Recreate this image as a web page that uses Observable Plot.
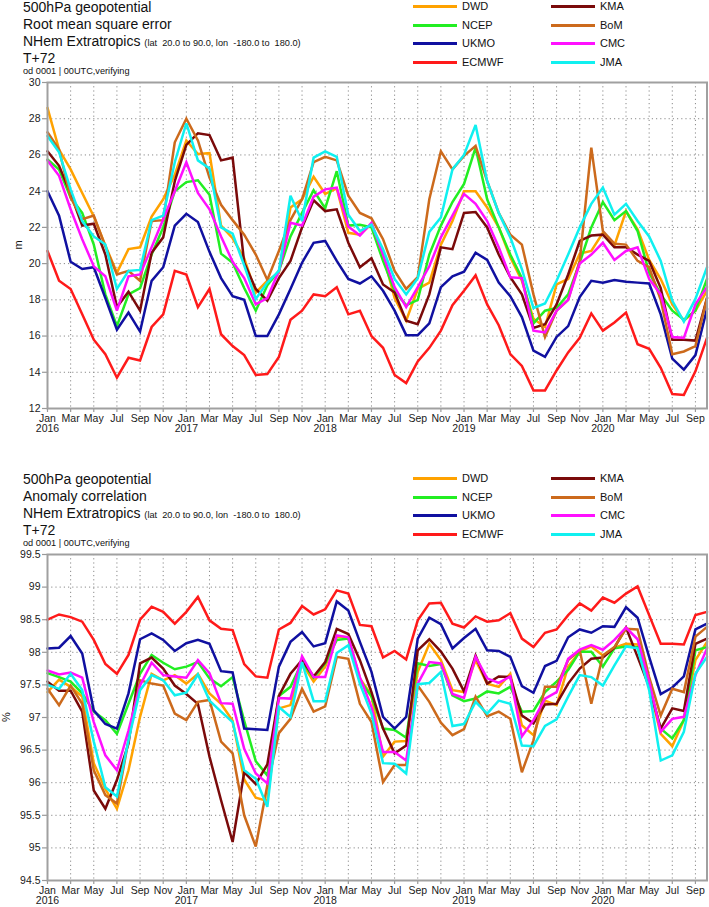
<!DOCTYPE html>
<html><head><meta charset="utf-8">
<script src="https://cdn.jsdelivr.net/npm/d3@7"></script>
<script src="https://cdn.jsdelivr.net/npm/@observablehq/plot@0.6"></script>
<style>
body{margin:0;background:#fff;font-family:"Liberation Sans",Arial,Helvetica,sans-serif;}
#wrap{position:relative;width:709px;height:907px;overflow:hidden;background:#fff;}
#wrap svg{position:absolute;left:0;}
.t{position:absolute;white-space:nowrap;color:#111;line-height:1;z-index:2;}
.big{font-size:14px;}
.sm{font-size:9.2px;}
.od{font-size:9.2px;}
.lg{font-size:11px;}
.sw{position:absolute;height:3px;width:44px;z-index:2;}
.yl{position:absolute;font-size:11px;z-index:2;transform:translate(-50%,-50%) rotate(-90deg);color:#111;}
</style></head><body><div id="wrap"></div>
<script>
// ---- data: monthly values Jan 2016 .. Oct 2020 (58 months) ----
const monthNames = ["Jan","Feb","Mar","Apr","May","Jun","Jul","Aug","Sep","Oct","Nov","Dec"];
const startYear = 2016;
const nMonths = 58;
const models = ["DWD","NCEP","UKMO","ECMWF","KMA","BoM","CMC","JMA"];
const colors = ["#ffa200","#22ee22","#1010a0","#ff1a1a","#7a0a0a","#cc6a1c","#ff10ff","#10f0f0"];

// Root mean square error (m)
const rmseDWD = [28.6,26.3,25.2,23.9,22.6,21.0,19.5,20.8,20.9,22.6,23.55,24.9,26.8,26.05,26.1,22.1,21.4,20.3,18.4,19.05,19.5,23.1,23.55,24.8,23.85,24.15,21.7,21.6,22.2,20.5,18.1,16.85,18.6,18.95,21.05,22.35,24.0,24.0,23.1,22.0,20.35,19.05,16.95,16.5,18.85,19.15,20.55,20.7,21.7,21.0,22.9,21.9,20.2,19.15,17.75,16.85,17.4,18.5];
const rmseNCEP = [25.75,25.2,23.65,22.8,21.05,18.3,16.55,18.3,18.65,20.5,22.0,24.0,24.5,24.6,23.8,20.55,20.05,18.65,17.4,18.8,19.6,21.5,22.8,24.05,23.05,25.1,22.1,22.15,22.0,20.15,18.5,17.7,18.0,20.5,22.1,23.4,24.4,26.4,23.55,22.0,20.5,19.2,16.7,17.4,17.55,18.3,20.05,22.0,23.4,22.4,22.9,21.8,19.5,18.3,17.4,16.9,17.4,19.15];
const rmseUKMO = [24.0,22.65,20.1,19.7,19.8,18.1,16.35,17.3,16.25,19.05,19.8,22.1,22.75,22.3,20.65,19.2,18.2,18.0,16.0,16.0,17.2,18.6,20.05,21.15,21.25,20.15,19.15,18.9,19.3,18.5,17.4,16.05,16.05,16.7,18.7,19.3,19.55,20.6,20.2,18.95,18.2,17.05,15.2,14.85,15.95,16.55,18.15,19.05,18.95,19.1,19.0,18.95,18.9,17.2,14.75,14.15,14.95,17.5];
const rmseECMWF = [20.7,19.05,18.6,17.2,15.8,15.0,13.7,14.8,14.65,16.5,17.2,19.6,19.4,17.6,18.6,16.1,15.45,14.95,13.85,13.9,14.85,16.9,17.4,18.3,18.2,18.7,17.2,17.4,16.0,15.35,13.85,13.4,14.6,15.35,16.3,17.7,18.5,19.35,17.75,16.6,15.0,14.35,13.0,13.0,14.1,15.1,15.9,17.25,16.3,16.75,17.3,15.55,15.3,14.25,12.8,12.75,14.05,15.9];
const rmseKMA = [26.2,25.4,23.85,22.1,22.2,20.5,17.6,18.45,17.4,20.6,21.45,24.55,26.55,27.2,27.1,25.7,25.85,20.05,18.6,17.95,19.2,20.15,22.0,23.5,22.9,23.0,21.15,19.8,20.3,18.85,18.4,16.85,16.65,18.3,20.9,20.8,22.8,22.85,22.0,20.5,19.25,18.3,16.45,16.65,17.75,19.4,21.25,21.55,21.6,20.9,20.9,20.5,20.15,18.65,15.8,15.8,15.75,18.1];
const rmseBoM = [27.25,26.3,23.65,22.45,22.65,20.95,19.4,19.6,19.05,22.35,22.4,26.7,28.0,26.8,24.75,23.25,22.4,21.6,20.5,19.1,20.7,22.4,23.55,25.6,25.9,25.7,23.75,22.8,22.5,21.35,19.6,18.6,19.25,23.55,26.2,25.2,25.95,26.5,24.55,22.8,21.6,21.05,18.3,15.95,17.4,18.0,20.15,26.4,21.8,21.1,21.05,20.15,19.8,18.0,15.0,15.15,15.45,18.1];
const rmseCMC = [25.7,24.85,23.0,21.35,19.85,19.3,17.4,19.3,19.4,20.9,22.45,24.0,25.6,23.9,23.0,21.5,20.1,19.2,17.75,18.1,19.6,22.25,22.1,23.7,24.1,24.2,22.05,21.55,22.25,20.5,18.7,17.6,18.7,19.85,21.45,22.65,23.85,23.3,22.35,20.9,19.25,19.2,16.3,16.2,17.4,18.0,20.0,20.5,21.15,20.2,20.7,20.9,19.15,18.3,15.95,15.9,17.75,18.7];
const rmseJMA = [27.05,26.15,24.1,22.35,21.5,21.05,18.6,19.6,19.65,22.4,22.65,25.6,27.75,25.7,25.25,22.0,21.65,19.9,18.05,18.95,19.6,23.75,22.35,25.85,26.2,25.9,22.7,21.8,22.15,20.8,19.15,18.3,19.2,21.75,22.55,25.2,26.0,27.65,24.55,22.8,21.45,19.7,17.55,17.8,19.05,20.5,22.0,23.3,24.2,22.7,23.3,22.35,21.5,20.15,17.95,16.8,18.05,19.8];

// Anomaly correlation (%)
const accDWD = [97.39,97.58,97.47,97.32,96.3,95.9,95.6,96.19,97.01,97.67,97.57,97.65,97.52,97.67,97.37,97.21,96.95,96.05,95.77,95.72,97.14,97.19,97.83,97.55,97.78,98.24,98.23,97.6,97.34,96.4,96.63,96.64,97.7,98.13,97.88,97.42,97.39,97.88,97.52,97.47,97.67,96.88,96.73,97.26,97.19,97.78,98.01,98.09,97.95,98.07,98.13,98.12,97.47,96.75,96.56,96.96,97.88,98.16];
const accNCEP = [97.68,97.62,97.55,97.37,97.09,96.96,96.75,97.21,97.67,97.96,97.84,97.74,97.78,97.85,97.6,97.48,97.62,96.95,96.33,96.11,97.33,97.47,97.85,97.61,97.83,98.19,98.21,97.57,97.32,96.83,96.81,96.69,97.83,97.79,97.82,97.34,97.25,97.29,97.4,97.37,97.47,97.09,97.1,97.39,97.55,97.73,98.01,98.01,97.78,98.06,98.09,98.08,97.49,96.83,96.68,96.96,98.03,98.08];
const accUKMO = [98.06,98.07,98.25,97.98,97.11,96.9,96.83,97.37,98.2,98.29,98.19,98.02,98.14,98.19,98.13,97.71,97.69,96.83,96.82,96.81,97.78,98.16,98.31,98.09,98.14,98.78,98.64,98.16,97.7,97.01,96.83,97.01,98.21,98.53,98.43,98.06,98.22,98.36,98.03,98.02,97.93,97.48,97.38,97.79,97.87,98.23,98.35,98.3,98.4,98.39,98.69,98.53,97.93,97.36,97.46,97.63,98.35,98.44];
const accECMWF = [98.5,98.58,98.54,98.47,98.19,97.82,97.67,97.96,98.5,98.7,98.62,98.44,98.62,98.85,98.49,98.36,98.34,97.82,97.63,97.61,98.35,98.45,98.71,98.58,98.66,98.95,98.9,98.42,98.4,97.92,98.02,97.89,98.49,98.75,98.76,98.44,98.38,98.55,98.47,98.49,98.6,98.21,98.08,98.3,98.35,98.57,98.75,98.64,98.84,98.76,98.9,99.01,98.57,98.13,98.13,98.12,98.57,98.62];
const accKMA = [97.55,97.41,97.41,97.09,95.88,95.6,96.04,96.6,97.83,97.92,97.75,97.49,97.36,97.21,96.4,95.73,95.09,96.16,95.98,96.28,97.33,97.67,97.88,97.63,97.85,98.36,98.28,97.88,97.39,96.83,96.45,96.57,98.03,98.2,98.01,97.75,97.4,97.95,97.52,97.63,97.62,97.03,96.91,97.2,97.21,97.52,97.75,97.9,97.92,98.07,98.38,97.93,97.47,96.83,97.14,97.1,98.13,98.21];
const accBoM = [97.44,97.19,97.49,97.21,96.19,95.81,95.68,96.65,97.57,97.52,97.49,97.06,96.96,97.24,97.27,96.63,96.45,95.5,95.02,95.96,96.76,96.98,97.44,97.09,97.17,97.93,97.9,97.21,96.93,96.01,96.27,96.27,97.49,97.24,96.92,96.73,96.82,97.32,97.02,97.09,96.98,96.16,96.65,97.47,97.47,97.88,98.03,97.21,97.95,98.08,98.36,98.35,97.62,97.03,97.44,97.39,98.24,98.39];
const accCMC = [97.72,97.66,97.69,97.61,96.93,96.42,96.19,96.8,97.49,97.84,97.65,97.63,97.61,97.88,97.68,97.22,97.21,96.52,96.14,95.99,97.3,97.29,97.94,97.62,97.62,98.26,98.23,97.62,97.16,96.47,96.47,96.34,97.52,97.85,97.83,97.36,97.3,97.93,97.6,97.53,97.63,96.71,96.96,97.29,97.39,97.9,98.04,98.11,98.04,98.19,98.38,98.2,97.55,96.78,96.98,97.01,97.65,98.06];
const accJMA = [97.5,97.44,97.67,97.42,96.63,95.93,95.79,96.65,97.42,97.65,97.57,97.34,97.38,97.66,97.26,97.09,96.93,96.19,96.06,95.63,97.16,97.01,97.85,97.25,97.25,97.99,98.11,97.52,97.06,96.3,96.29,96.14,97.51,97.53,97.7,96.87,96.9,97.24,97.06,97.26,97.21,96.57,96.56,96.87,96.97,97.32,97.65,97.62,97.49,97.8,98.09,98.06,97.42,96.34,96.42,96.78,97.67,97.93];

const rmseTicks = [12,14,16,18,20,22,24,26,28,30];
const accTicks = [94.5,95,95.5,96,96.5,97,97.5,98,98.5,99,99.5];
const xTicks = d3.range(0, nMonths, 2);

// ---- build ----
const rmseSeries = [rmseDWD,rmseNCEP,rmseUKMO,rmseECMWF,rmseKMA,rmseBoM,rmseCMC,rmseJMA];
const accSeries = [accDWD,accNCEP,accUKMO,accECMWF,accKMA,accBoM,accCMC,accJMA];
const fmtX = i => monthNames[i % 12] + (i % 12 === 0 ? "\n" + (startYear + i / 12) : "");
const FONT = "'Liberation Sans', Arial, Helvetica, sans-serif";

function chart(series, yDomain, yTicks, height, mTop, mBottom) {
  const marks = [
    Plot.gridY(yTicks, {stroke: "#8a8a8a", strokeOpacity: 1, strokeDasharray: "1.2,3", strokeWidth: 1}),
    Plot.gridX(xTicks, {stroke: "#8a8a8a", strokeOpacity: 1, strokeDasharray: "1.2,3", strokeWidth: 1}),
    Plot.axisY({ticks: yTicks, tickFormat: d => String(d), tickSize: 5, tickPadding: 2, label: null, stroke: "#999", strokeWidth: 1.2}),
    Plot.axisX({ticks: xTicks, tickFormat: fmtX, tickSize: 4, tickPadding: 2, label: null, stroke: "#999", strokeWidth: 1.2}),
  ];
  series.forEach((s, k) => {
    marks.push(Plot.lineY(s, {x: (d, i) => i, y: d => d, stroke: colors[k], strokeWidth: 2.5, strokeLinejoin: "miter", strokeMiterlimit: 3}));
  });
  marks.push(Plot.frame({stroke: "#a0a0a0", strokeWidth: 2}));
  return Plot.plot({
    width: 709, height,
    marginTop: mTop, marginBottom: mBottom, marginLeft: 47, marginRight: 2.5,
    x: {domain: [0, nMonths - 1]},
    y: {domain: yDomain},
    style: {fontFamily: FONT, fontSize: "10.5px", color: "#1a1a1a", background: "transparent", overflow: "visible"},
    marks
  });
}

const wrap = document.getElementById("wrap");
const top1 = chart(rmseSeries, [12, 30], rmseTicks, 445, 82, 37);
top1.style.top = "0px";
wrap.appendChild(top1);
const top2 = chart(accSeries, [94.5, 99.5], accTicks, 457, 104, 27);
top2.style.top = "450px";
wrap.appendChild(top2);

function addText(cls, txt, x, y, html) {
  const d = document.createElement("div");
  d.className = "t " + cls;
  d.style.left = x + "px"; d.style.top = y + "px";
  if (html) d.innerHTML = txt; else d.textContent = txt;
  wrap.appendChild(d);
}
function header(off, subtitle, yLab, yLabX, yLabY) {
  addText("big", "500hPa geopotential", 23, off + 0);
  addText("big", subtitle, 23, off + 16.5);
  addText("big", 'NHem Extratropics <span class="sm">(lat &nbsp;20.0 to 90.0, lon &nbsp;-180.0 to &nbsp;180.0)</span>', 23, off + 33.5, true);
  addText("big", "T+72", 23, off + 51);
  addText("od", "od 0001 | 00UTC,verifying", 23, off + 66.5);
  const rows = [6.7, 25, 43.5, 62.5];
  models.forEach((m, k) => {
    const col = k < 4 ? 0 : 1, row = k % 4;
    const x0 = col === 0 ? 413 : 551;
    const sw = document.createElement("div");
    sw.className = "sw";
    sw.style.left = x0 + "px"; sw.style.top = (off + rows[row] - 1.5) + "px";
    sw.style.background = colors[k];
    wrap.appendChild(sw);
    addText("lg", m, x0 + 49, off + rows[row] - 5.4);
  });
  const yl = document.createElement("div");
  yl.className = "yl"; yl.textContent = yLab;
  yl.style.left = yLabX + "px"; yl.style.top = yLabY + "px";
  wrap.appendChild(yl);
}
header(0, "Root mean square error", "m", 18, 245);
header(472, "Anomaly correlation", "%", 6, 717);
</script>
</body></html>
